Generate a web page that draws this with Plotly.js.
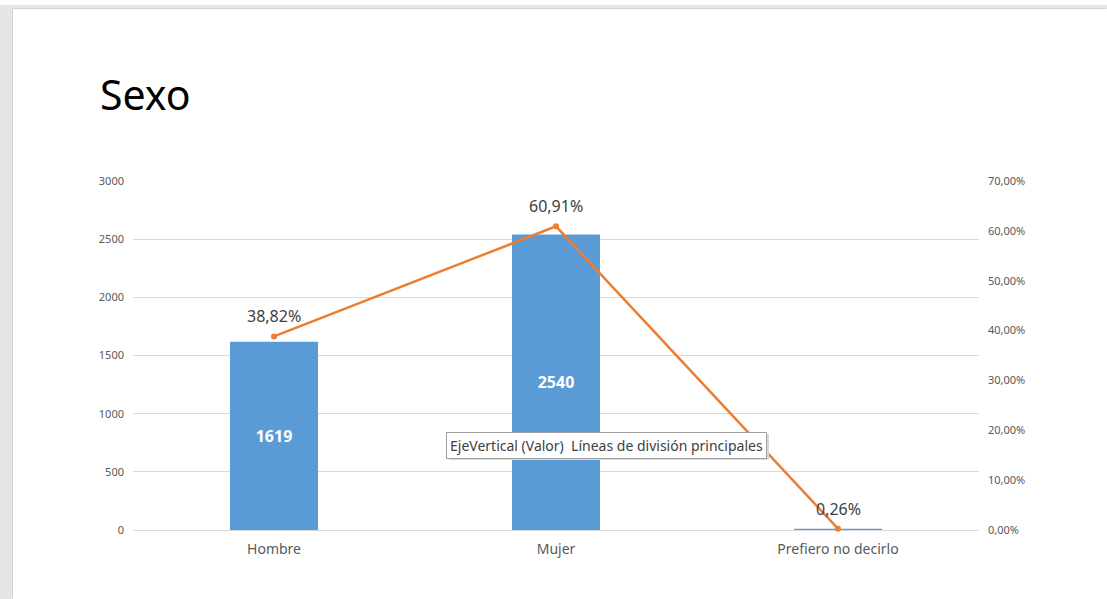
<!DOCTYPE html>
<html>
<head>
<meta charset="utf-8">
<script src="https://cdn.plot.ly/plotly-3.0.1.min.js"></script>
<style>
  html, body { margin:0; padding:0; background:#ffffff; width:1107px; height:599px; overflow:hidden; }
  #frame { position:absolute; left:0; top:5px; width:1107px; height:594px; background:#e6e6e6; }
  #chart { position:absolute; left:13px; top:9px; width:1094px; height:590px; background:#ffffff; box-shadow: -1px -1px 0 #d2d2d2; }
</style>
</head>
<body>
<div id="frame"></div>
<div id="chart"></div>
<script>
const categories = ['Hombre', 'Mujer', 'Prefiero no decirlo'];
const counts = [1619, 2540, 11];
const percents = [0.3882, 0.6091, 0.0026];
const percentLabels = ['38,82%', '60,91%', '0,26%'];
const leftTicks = [0, 500, 1000, 1500, 2000, 2500, 3000];
const rightTicks = [0, 0.1, 0.2, 0.3, 0.4, 0.5, 0.6, 0.7];

const FONT = '"Noto Sans", "Open Sans", sans-serif';

const barTrace = {
  type: 'bar',
  x: categories,
  y: counts,
  marker: { color: '#5B9BD5' },
  text: counts.map(String),
  textposition: 'inside',
  insidetextanchor: 'middle',
  textfont: { color: '#ffffff', size: 16, family: FONT, weight: 'bold' },
  constraintext: 'none',
  hoverinfo: 'skip',
  cliponaxis: false
};

const lineTrace = {
  type: 'scatter',
  mode: 'lines+markers',
  x: categories,
  y: percents,
  yaxis: 'y2',
  line: { color: '#ED7D31', width: 2.5 },
  marker: { color: '#ED7D31', size: 6 },
  hoverinfo: 'skip',
  cliponaxis: false
};

const pctAnnotations = categories.map((c, i) => ({
  xref: 'x', yref: 'y2',
  x: c, y: percents[i],
  text: percentLabels[i],
  showarrow: false,
  xanchor: 'center', yanchor: 'bottom',
  yshift: 7,
  font: { color: '#404040', size: 16, family: FONT }
}));

const layout = {
  width: 1094,
  height: 590,
  margin: { l: 120, r: 128, t: 172, b: 69 },
  paper_bgcolor: '#ffffff',
  plot_bgcolor: '#ffffff',
  separators: ',.',
  showlegend: false,
  hovermode: false,
  bargap: 0.688,
  font: { family: FONT, color: '#595959' },
  title: {
    text: 'Sexo',
    font: { family: FONT, size: 41, color: '#000000' },
    xref: 'container', yref: 'container',
    x: 87 / 1094, xanchor: 'left',
    y: 1 - 87 / 590, yanchor: 'middle'
  },
  xaxis: {
    type: 'category',
    showgrid: false,
    showline: false,
    zeroline: false,
    ticks: '',
    tickfont: { size: 14, color: '#595959', family: FONT },
    ticklabelstandoff: 9
  },
  yaxis: {
    range: [0, 3000],
    tickvals: leftTicks,
    ticktext: leftTicks.map(String),
    showgrid: true,
    gridcolor: '#d9d9d9',
    gridwidth: 1,
    zeroline: true,
    zerolinecolor: '#d9d9d9',
    zerolinewidth: 1,
    showline: false,
    ticks: '',
    tickfont: { size: 11, color: '#595959', family: FONT },
    ticklabelstandoff: 8
  },
  yaxis2: {
    overlaying: 'y',
    side: 'right',
    range: [0, 0.7],
    tickvals: rightTicks,
    tickformat: '.2%',
    showgrid: false,
    zeroline: false,
    showline: false,
    ticks: '',
    tickfont: { size: 11, color: '#595959', family: FONT },
    ticklabelstandoff: 8
  },
  annotations: pctAnnotations.concat([
    {
      xref: 'paper', yref: 'paper',
      x: (609 - 133) / 846, y: (530 - 447) / 349,
      xanchor: 'center', yanchor: 'middle',
      text: ' ',
      showarrow: false,
      font: { family: FONT, size: 14, color: '#404040' },
      width: 318, height: 24,
      bgcolor: '#d8d8d8',
      borderwidth: 0
    },
    {
      xref: 'paper', yref: 'paper',
      x: (606 - 133) / 846, y: (530 - 445) / 349,
      xanchor: 'center', yanchor: 'middle',
      text: 'EjeVertical (Valor)  Líneas de división principales',
      showarrow: false,
      font: { family: FONT, size: 14, color: '#404040' },
      bgcolor: '#ffffff',
      bordercolor: '#a0a0a0',
      borderwidth: 1,
      borderpad: 3
    }
  ])
};

Plotly.newPlot('chart', [barTrace, lineTrace], layout, { displayModeBar: false, staticPlot: true });
</script>
</body>
</html>
